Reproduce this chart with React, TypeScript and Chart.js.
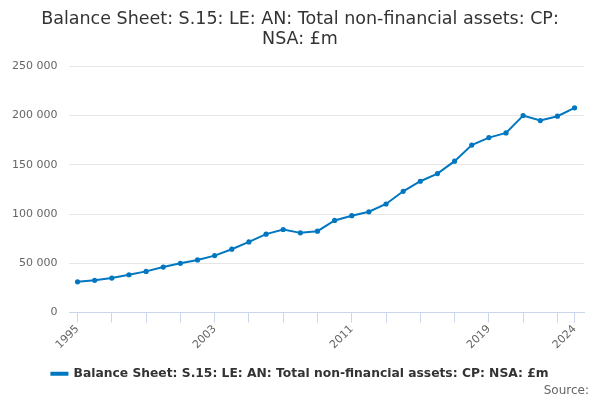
import React, { useEffect, useRef } from "react";
import { Chart, registerables } from "chart.js";

Chart.register(...registerables);

const years = [
  1995, 1996, 1997, 1998, 1999, 2000, 2001, 2002, 2003, 2004, 2005, 2006, 2007, 2008, 2009,
  2010, 2011, 2012, 2013, 2014, 2015, 2016, 2017, 2018, 2019, 2020, 2021, 2022, 2023, 2024,
];
const values = [
  31200, 32700, 35000, 38400, 41800, 46200, 50000, 53400, 57800, 64300, 71700, 79600, 84300, 80900, 82600,
  93500, 98300, 102300, 110200, 123100, 133300, 141100, 153700, 170000, 177600, 182300, 200000, 194900, 199300, 207800,
];
const tickYears = [1995, 1997, 1999, 2001, 2003, 2005, 2007, 2009, 2011, 2013, 2015, 2017, 2019, 2021, 2023, 2024];
const labelYears = [1995, 2003, 2011, 2019, 2024];
const yTicks = [0, 50000, 100000, 150000, 200000, 250000];

const titleLines = ["Balance Sheet: S.15: LE: AN: Total non-financial assets: CP:", "NSA: £m"];
const seriesName = "Balance Sheet: S.15: LE: AN: Total non-financial assets: CP: NSA: £m";
const FONT = "'DejaVu Sans', sans-serif";

const sourcePlugin = {
  id: "sourceText",
  afterDraw(chart: any) {
    const ctx = chart.ctx;
    ctx.save();
    ctx.font = `12px ${FONT}`;
    ctx.fillStyle = "#666666";
    ctx.textAlign = "right";
    ctx.textBaseline = "middle";
    ctx.fillText("Source:", 589, 391);
    ctx.restore();
  },
};

export default function App() {
  const ref = useRef<HTMLCanvasElement>(null);
  useEffect(() => {
    if (!ref.current) return;
    const chart = new Chart(ref.current, {
      type: "line",
      data: {
        datasets: [
          {
            label: seriesName,
            data: years.map((y, i) => ({ x: y, y: values[i] })),
            borderColor: "#0077c0",
            backgroundColor: "#0077c0",
            borderWidth: 2,
            pointRadius: 1.6,
            pointHoverRadius: 2,
            tension: 0,
          },
        ],
      },
      plugins: [sourcePlugin],
      options: {
        animation: false,
        responsive: true,
        maintainAspectRatio: false,
        layout: { padding: { left: 0, right: 0, top: 9, bottom: 10 } },
        plugins: {
          title: {
            display: true,
            text: titleLines,
            color: "#333333",
            font: { family: FONT, size: 17.5, weight: "normal", lineHeight: 1.15 },
            padding: { top: 0, bottom: 17 },
          },
          legend: {
            position: "bottom",
            labels: {
              color: "#333333",
              font: { family: FONT, size: 12.3, weight: "bold" },
              boxWidth: 16,
              boxHeight: 2,
              padding: 9,
            },
          },
          tooltip: { enabled: false },
        },
        scales: {
          x: {
            type: "linear",
            min: 1994.53,
            max: 2024.55,
            afterBuildTicks: (axis: any) => {
              axis.ticks = tickYears.map((v) => ({ value: v }));
            },
            afterFit: (axis: any) => {
              axis.height += 7;
            },
            ticks: {
              autoSkip: false,
              maxRotation: 45,
              minRotation: 45,
              color: "#666666",
              font: { family: FONT, size: 11 },
              padding: 0,
              callback: (v: any) => (labelYears.includes(Number(v)) ? String(v) : ""),
            },
            grid: {
              drawOnChartArea: false,
              drawTicks: true,
              tickLength: 10,
              color: "#ccd6eb",
            },
            border: { color: "#ccd6eb" },
          },
          y: {
            min: 0,
            max: 250000,
            afterBuildTicks: (axis: any) => {
              axis.ticks = yTicks.map((v) => ({ value: v }));
            },
            ticks: {
              color: "#666666",
              font: { family: FONT, size: 11 },
              padding: 12,
              callback: (v: any) => String(v).replace(/\B(?=(\d{3})+(?!\d))/g, " "),
            },
            grid: { color: "#e6e6e6", drawTicks: false },
            border: { display: false },
          },
          spacer: {
            type: "linear",
            position: "right",
            display: true,
            afterFit: (axis: any) => {
              axis.width = 16;
            },
            ticks: { display: false },
            grid: { display: false, drawTicks: false },
            border: { display: false },
          },
        },
      },
    });
    return () => chart.destroy();
  }, []);
  return (
    <div style={{ position: "fixed", left: 0, top: 0, width: 600, height: 400, background: "#fff" }}>
      <canvas ref={ref} />
    </div>
  );
}
